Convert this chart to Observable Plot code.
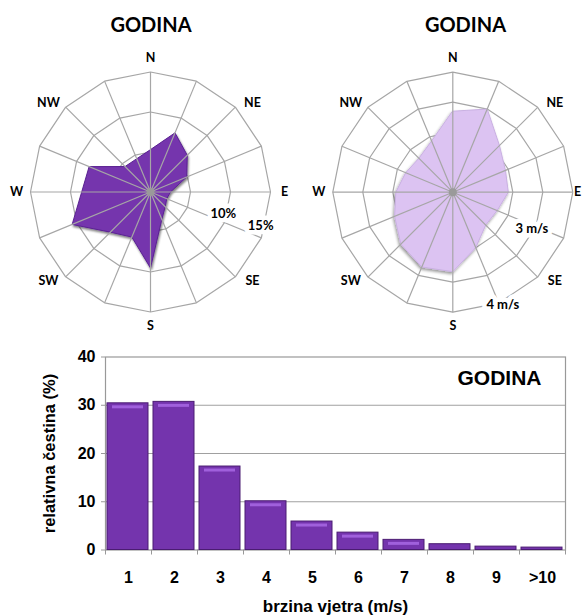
<!DOCTYPE html>
<html><head><meta charset="utf-8">
<script src="https://cdn.jsdelivr.net/npm/d3@7"></script>
<script src="https://cdn.jsdelivr.net/npm/@observablehq/plot@0.6"></script>
<style>
html,body{margin:0;padding:0;background:#fff;overflow:hidden;}
#wrap{position:relative;width:582px;height:615px;overflow:hidden;}
.panel{position:absolute;}
</style></head><body><div id="wrap"></div>
<script>
// ---- data ----
const directions = ["N","NNE","NE","ENE","E","ESE","SE","SSE","S","SSW","SW","WSW","W","WNW","NW","NNW"];
const compassLabels = ["N","NE","E","SE","S","SW","W","NW"];
const freqPercent = [5.3, 8.0, 6.5, 4.9, 2.5, 2.2, 2.6, 3.7, 9.5, 6.1, 7.1, 10.6, 8.6, 8.3, 4.5, 4.5];
const meanSpeed   = [2.7, 3.0, 2.2, 1.9, 1.85, 1.6, 1.55, 2.0, 2.65, 2.7, 2.45, 2.1, 1.9, 1.7, 1.6, 1.85];
const freqRings = [5, 10, 15];
const freqRingLabelValues = [10, 15];
const freqRingLabels = ["10%", "15%"];
const speedRings = [1, 2, 3, 4];
const speedRingLabelValues = [3, 4];
const speedRingLabels = ["3 m/s", "4 m/s"];
const speedClasses = ["1","2","3","4","5","6","7","8","9",">10"];
const classPercent = [30.4, 30.7, 17.3, 10.1, 5.9, 3.6, 2.1, 1.2, 0.7, 0.5];
const yTicks = [0, 10, 20, 30, 40];
const titleText = "GODINA";

const wrap = document.getElementById("wrap");
const GRID = "#a6a6a6";

function addShadow(svg, id, dev, dx, dy, op) {
  const ns = "http://www.w3.org/2000/svg";
  const defs = document.createElementNS(ns, "defs");
  defs.innerHTML = `<filter id="${id}" x="-20%" y="-20%" width="140%" height="140%">
    <feGaussianBlur in="SourceAlpha" stdDeviation="${dev}"/>
    <feOffset dx="${dx}" dy="${dy}" result="o"/>
    <feComponentTransfer><feFuncA type="linear" slope="${op}"/></feComponentTransfer>
    <feMerge><feMergeNode/><feMergeNode in="SourceGraphic"/></feMerge></filter>`;
  svg.insertBefore(defs, svg.firstChild);
}

function rose(o) {
  const R = o.rings[o.rings.length - 1];
  const k = o.px;
  const ang = i => i * Math.PI / 8;
  const pt = (r, a) => ({x: r * Math.sin(a), y: r * Math.cos(a)});
  const ringPts = o.rings.flatMap(v => directions.map((d, i) => ({ring: v, ...pt(v, ang(i))})));
  const spokes = directions.map((d, i) => pt(R, ang(i)));
  const poly = o.values.map((v, i) => ({dir: directions[i], ...pt(v, ang(i))}));
  const xMax = (o.width - o.cx - 5) / k;
  const labels = compassLabels.map((l, j) => {
    const a = j * Math.PI / 4;
    const p = (j % 2 === 1)
      ? {x: Math.sign(Math.sin(a)) * 0.85 * R, y: Math.sign(Math.cos(a)) * 0.742 * R}
      : pt(1.117 * R, a);
    return {l, x: Math.min(p.x, xMax), y: p.y};
  });
  const rl = o.ringLabelValues.map((v, j) => ({t: o.ringLabels[j], ...pt(v + o.ringLabelShift[j], o.ringLabelAngle[j] * Math.PI / 180)}));
  const svg = Plot.plot({
    width: o.width, height: o.height, margin: 0,
    style: {fontFamily: "Lato, 'Open Sans', sans-serif", fontWeight: "bold", color: "black", background: "transparent"},
    x: {domain: [-o.cx / k, (o.width - o.cx) / k], axis: null},
    y: {domain: [(o.cy - o.height) / k, o.cy / k], axis: null},
    marks: [
      Plot.line(ringPts, {x: "x", y: "y", z: "ring", curve: "linear-closed", stroke: GRID, strokeWidth: 1.2}),
      Plot.line(poly, {x: "x", y: "y", curve: "linear-closed", fill: o.fill, stroke: o.stroke, strokeWidth: 1}),
      Plot.link(spokes, {x1: 0, y1: 0, x2: "x", y2: "y", stroke: GRID, strokeWidth: 1.2}),
      Plot.dot([{x: 0, y: 0}], {x: "x", y: "y", r: 4, fill: "#9a9a9a"}),
      Plot.text(rl, {x: "x", y: "y", text: "t", fontSize: 13, fill: "black", stroke: "white", strokeWidth: 9, paintOrder: "stroke", strokeLinejoin: "round"}),
      Plot.text(labels, {x: "x", y: "y", text: "l", fontSize: 12.5, fill: "black", stroke: "white", strokeWidth: 2, paintOrder: "stroke"}),
      Plot.text([titleText], {text: d => d, frameAnchor: "top-left", dx: o.titleX, dy: 25, textAnchor: "middle", lineAnchor: "middle", fontSize: 20, fill: "black"})
    ]
  });
  addShadow(svg, o.id, o.blur, o.sdx, o.sdy, o.shadowOp);
  const lines = svg.querySelectorAll('g[aria-label="line"]');
  if (lines[1]) lines[1].setAttribute("filter", `url(#${o.id})`);
  const div = document.createElement("div");
  div.className = "panel";
  div.style.left = o.left + "px"; div.style.top = "0px";
  div.appendChild(svg);
  wrap.appendChild(div);
}

rose({id: "sh1", left: 0, width: 291, height: 340, cx: 150, cy: 191.5, px: 8,
  values: freqPercent, rings: freqRings, ringLabels: freqRingLabels, ringLabelValues: freqRingLabelValues,
  ringLabelAngle: [106.5, 107], ringLabelShift: [-0.5, -0.6],
  fill: "#7434ad", stroke: "#5a2391", blur: 1.2, sdx: 1, sdy: 1.5, shadowOp: 0.5, titleX: 150.5});

rose({id: "sh2", left: 291, width: 291, height: 340, cx: 161.3, cy: 191.7, px: 30,
  values: meanSpeed, rings: speedRings, ringLabels: speedRingLabels, ringLabelValues: speedRingLabelValues,
  ringLabelAngle: [114.6, 156], ringLabelShift: [-0.1, 0.1],
  fill: "#dcc3f2", stroke: "#c9b0e2", blur: 1.8, sdx: -1, sdy: 2, shadowOp: 0.4, titleX: 174});

// ---- bar chart ----
const bars = speedClasses.map((c, i) => ({c, v: classPercent[i]}));
const step = (565 - 105) / speedClasses.length;
const barSvg = Plot.plot({
  width: 582, height: 275,
  marginLeft: 105, marginRight: 17, marginTop: 16.5, marginBottom: 65.5,
  style: {fontFamily: "'Liberation Sans', Arial, sans-serif", fontWeight: "bold", fontSize: "16px", color: "black", background: "transparent"},
  x: {domain: speedClasses, padding: 0, axis: null},
  y: {domain: [0, 40], axis: null},
  marks: [
    Plot.ruleY([10, 20, 30], {stroke: "#a0a0a0", strokeWidth: 1.2}),
    Plot.frame({stroke: "#999", strokeWidth: 1.2}),
    Plot.barY(bars, {x: "c", y: "v", fill: "#7434ad", stroke: "#4b1c72", strokeWidth: 1, insetLeft: 2, insetRight: 3}),
    Plot.tickY(bars.filter(d => d.v > 2), {x: "c", y: "v", dy: 3.5, insetLeft: 7, insetRight: 8, stroke: "#a060dc", strokeWidth: 3}),
    Plot.ruleX(speedClasses, {x: d => d, dx: -step / 2, y1: 0, y2: 0, insetBottom: -5, stroke: "#999"}),
    Plot.ruleX([speedClasses[speedClasses.length - 1]], {x: d => d, dx: step / 2, y1: 0, y2: 0, insetBottom: -5, stroke: "#999"}),
    Plot.axisY({ticks: yTicks, tickSize: 4, tickPadding: 6, label: null, stroke: "#999", fontSize: 16}),
    Plot.axisX({tickSize: 0, tickPadding: 22, label: null, fontSize: 16}),
    Plot.text(["relativna čestina (%)"], {text: d => d, frameAnchor: "left", dx: -56, rotate: -90, textAnchor: "middle", lineAnchor: "middle", fontSize: 16.5}),
    Plot.text(["brzina vjetra (m/s)"], {text: d => d, frameAnchor: "bottom", dy: 57, textAnchor: "middle", lineAnchor: "middle", fontSize: 17}),
    Plot.text([titleText], {text: d => d, frameAnchor: "top-right", dx: -24, dy: 21, textAnchor: "end", lineAnchor: "middle", fontSize: 21})
  ]
});
const bdiv = document.createElement("div");
bdiv.className = "panel"; bdiv.style.left = "0px"; bdiv.style.top = "340px";
bdiv.appendChild(barSvg);
wrap.appendChild(bdiv);
</script></body></html>
